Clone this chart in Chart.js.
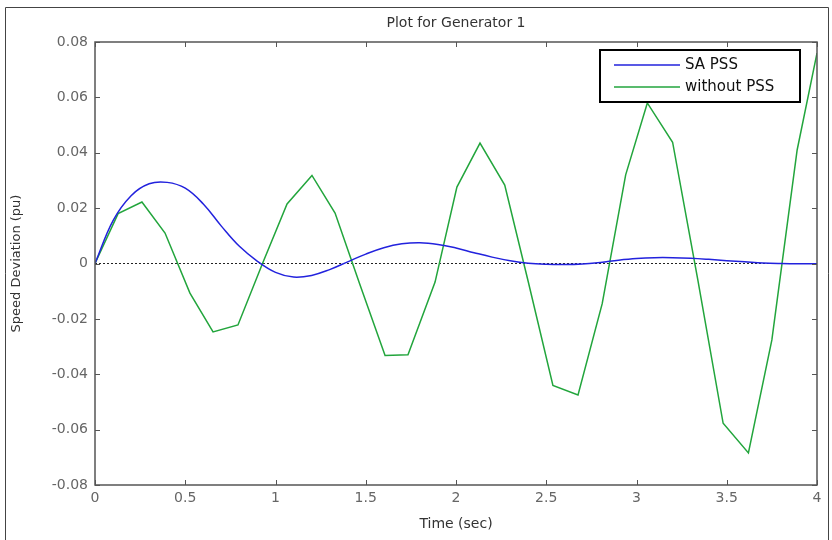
<!DOCTYPE html>
<html>
<head>
<meta charset="utf-8">
<script src="https://cdn.jsdelivr.net/npm/chart.js@4.4.1/dist/chart.umd.min.js"></script>
<style>
html, body { margin: 0; padding: 0; background: #fff; }
</style>
</head>
<body>
<canvas id="myChart" width="832" height="540"></canvas>
<script>
// SA PSS response (smooth)
const timeSA = [0, 0.1, 0.2, 0.3, 0.4, 0.5, 0.6, 0.7, 0.8, 0.9, 1.0, 1.1, 1.2, 1.3, 1.4, 1.5, 1.6, 1.7, 1.8, 1.9, 2.0,
  2.1, 2.2, 2.3, 2.4, 2.5, 2.6, 2.7, 2.8, 2.9, 3.0, 3.1, 3.2, 3.3, 3.4, 3.5, 3.6, 3.7, 3.8, 3.9, 4.0];
const speedSA = [0, 0.0155, 0.0245, 0.0288, 0.0293, 0.0272, 0.0215, 0.0135, 0.0062, 0.0008, -0.0032, -0.0049, -0.0043, -0.0022, 0.0006,
  0.0034, 0.0057, 0.0071, 0.0075, 0.0069, 0.0056, 0.0039, 0.0023, 0.001, 0.0001, -0.0003, -0.0004, -0.0002, 0.0004, 0.0012,
  0.0018, 0.0021, 0.0021, 0.0019, 0.0015, 0.001, 0.0006, 0.0002, 0, -0.0001, -0.0001];

// without PSS response (coarse samples)
const timeNoPSS = [0, 0.128, 0.26, 0.388, 0.526, 0.654, 0.792, 0.928, 1.064, 1.202, 1.33, 1.467, 1.607, 1.734, 1.884, 2.005,
  2.133, 2.27, 2.4, 2.537, 2.676, 2.81, 2.94, 3.06, 3.2, 3.34, 3.48, 3.62, 3.75, 3.89, 4.0];
const speedNoPSS = [0, 0.018, 0.0222, 0.011, -0.0107, -0.0247, -0.0222, 0, 0.0215, 0.0318, 0.0182, -0.0075, -0.0332, -0.033,
  -0.0067, 0.0276, 0.0435, 0.0283, -0.0065, -0.044, -0.0475, -0.0145, 0.032, 0.058, 0.0438, -0.006, -0.0577, -0.0684,
  -0.0276, 0.041, 0.076];

const zeroLine = [0, 0];
const zeroTime = [0, 4];

const xTicks = [0, 0.5, 1, 1.5, 2, 2.5, 3, 3.5, 4];
const xTickLabels = ['0', '0.5', '1', '1.5', '2', '2.5', '3', '3.5', '4'];
const yTicks = [-0.08, -0.06, -0.04, -0.02, 0, 0.02, 0.04, 0.06, 0.08];
const yTickLabels = ['-0.08', '-0.06', '-0.04', '-0.02', '0', '0.02', '0.04', '0.06', '0.08'];

const chartTitle = 'Plot for Generator 1';

const FONT = '"DejaVu Sans", "Liberation Sans", Arial, sans-serif';

const toPoints = (xs, ys) => xs.map((x, i) => ({x: x, y: ys[i]}));

const matlabBox = {
  id: 'matlabBox',
  afterDraw(chart) {
    const ctx = chart.ctx;
    const a = chart.chartArea;
    const xs = chart.scales.x, ys = chart.scales.y;
    ctx.save();
    // figure frame
    ctx.strokeStyle = '#444';
    ctx.lineWidth = 1;
    ctx.beginPath();
    ctx.moveTo(5.5, 540); ctx.lineTo(5.5, 7.5); ctx.lineTo(828.5, 7.5); ctx.lineTo(828.5, 540);
    ctx.stroke();
    // title, centred over the axes
    ctx.fillStyle = '#333';
    ctx.font = '14px ' + FONT;
    ctx.textAlign = 'center';
    ctx.textBaseline = 'middle';
    ctx.fillText(chartTitle, (a.left + a.right) / 2, 23);
    // axes box
    ctx.strokeStyle = '#555';
    ctx.lineWidth = 1.5;
    ctx.strokeRect(a.left, a.top, a.right - a.left, a.bottom - a.top);
    // inward ticks
    ctx.lineWidth = 1;
    ctx.beginPath();
    xTicks.forEach(v => {
      const p = Math.round(xs.getPixelForValue(v)) + 0.5;
      ctx.moveTo(p, a.bottom); ctx.lineTo(p, a.bottom - 5);
      ctx.moveTo(p, a.top); ctx.lineTo(p, a.top + 5);
    });
    yTicks.forEach(v => {
      const p = Math.round(ys.getPixelForValue(v)) + 0.5;
      ctx.moveTo(a.left, p); ctx.lineTo(a.left + 5, p);
      ctx.moveTo(a.right, p); ctx.lineTo(a.right - 5, p);
    });
    ctx.stroke();
    // legend
    const bx = a.right - 217, by = a.top + 8, bw = 200, bh = 52;
    ctx.fillStyle = '#fff';
    ctx.fillRect(bx, by, bw, bh);
    ctx.strokeStyle = '#000';
    ctx.lineWidth = 2;
    ctx.strokeRect(bx, by, bw, bh);
    const items = chart.data.datasets.filter(d => d.label);
    items.forEach((d, i) => {
      const y = by + 15 + i * 22;
      ctx.strokeStyle = d.borderColor;
      ctx.lineWidth = 1.5;
      ctx.beginPath();
      ctx.moveTo(bx + 14, y); ctx.lineTo(bx + 80, y);
      ctx.stroke();
      ctx.fillStyle = '#111';
      ctx.font = '15px ' + FONT;
      ctx.textBaseline = 'middle';
      ctx.textAlign = 'left';
      ctx.fillText(d.label, bx + 85, y);
    });
    ctx.restore();
  }
};

new Chart(document.getElementById('myChart').getContext('2d'), {
  type: 'line',
  data: {
    datasets: [
      {
        label: 'SA PSS',
        data: toPoints(timeSA, speedSA),
        borderColor: '#2222dd',
        borderWidth: 1.5,
        pointRadius: 0,
        tension: 0.4,
        fill: false
      },
      {
        label: 'without PSS',
        data: toPoints(timeNoPSS, speedNoPSS),
        borderColor: '#22a53c',
        borderWidth: 1.5,
        pointRadius: 0,
        tension: 0,
        fill: false
      },
      {
        data: toPoints(zeroTime, zeroLine),
        borderColor: '#222',
        borderWidth: 1,
        borderDash: [2, 2],
        pointRadius: 0,
        fill: false
      }
    ]
  },
  options: {
    responsive: false,
    animation: false,
    devicePixelRatio: 1,
    layout: { padding: { left: 0, right: 15, top: 42, bottom: 0 } },
    plugins: {
      legend: { display: false },
      tooltip: { enabled: false },
      title: { display: false }
    },
    scales: {
      x: {
        type: 'linear',
        min: 0, max: 4,
        afterBuildTicks: s => { s.ticks = xTicks.map(v => ({value: v})); },
        afterFit: s => { s.height = 55; },
        ticks: {
          callback: (v, i) => xTickLabels[i],
          color: '#666',
          font: { family: FONT, size: 14 },
          padding: 5,
          maxRotation: 0
        },
        grid: { display: false, drawTicks: false },
        border: { display: false },
        title: {
          display: true,
          text: 'Time (sec)',
          color: '#333',
          font: { family: FONT, size: 14 },
          padding: { top: 0, bottom: 7.5 }
        }
      },
      y: {
        type: 'linear',
        min: -0.08, max: 0.08,
        afterBuildTicks: s => { s.ticks = yTicks.map(v => ({value: v})); },
        afterFit: s => { s.width = 95; },
        ticks: {
          callback: (v, i) => yTickLabels[i],
          color: '#666',
          font: { family: FONT, size: 14 },
          padding: 7
        },
        grid: { display: false, drawTicks: false },
        border: { display: false },
        title: {
          display: true,
          text: 'Speed Deviation (pu)',
          color: '#333',
          font: { family: FONT, size: 13 },
          padding: { top: 8.5, bottom: 0 }
        }
      }
    }
  },
  plugins: [matlabBox]
});
</script>
</body>
</html>
